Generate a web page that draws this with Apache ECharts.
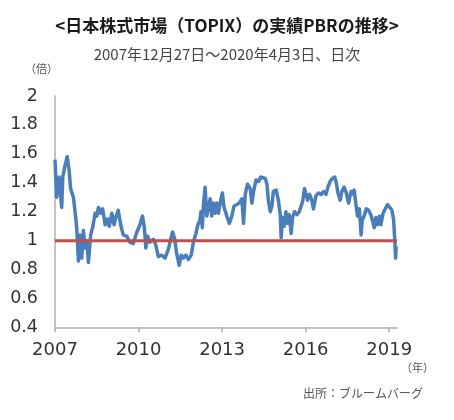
<!DOCTYPE html>
<html>
<head>
<meta charset="utf-8">
<script src="https://cdn.jsdelivr.net/npm/echarts@6/dist/echarts.min.js"></script>
<style>
html,body{margin:0;padding:0;background:#fff;}
#chart{width:454px;height:420px;}
</style>
</head>
<body>
<div id="chart"></div>
<script>
// x positions on the year axis (axis label scale)
var xPos = [
2007.00,2007.06,2007.15,2007.24,2007.28,2007.36,2007.44,2007.51,2007.56,2007.66,
2007.72,2007.78,2007.84,2007.90,2007.96,2008.02,2008.08,2008.14,2008.20,2008.28,
2008.36,2008.44,2008.50,2008.56,2008.64,2008.71,2008.80,2008.88,2008.95,2009.04,
2009.12,2009.18,2009.27,2009.37,2009.45,2009.58,2009.69,2009.81,2009.94,2010.05,
2010.14,2010.21,2010.26,2010.33,2010.41,2010.53,2010.62,2010.71,2010.83,2010.95,
2011.07,2011.22,2011.29,2011.37,2011.46,2011.53,2011.61,2011.70,2011.79,2011.89,
2011.97,2012.06,2012.13,2012.20,2012.24,2012.29,2012.33,2012.39,2012.45,2012.51,
2012.57,2012.63,2012.69,2012.75,2012.81,2012.87,2012.95,2013.01,2013.07,2013.17,
2013.26,2013.35,2013.43,2013.53,2013.62,2013.71,2013.77,2013.83,2013.91,2014.01,
2014.07,2014.15,2014.22,2014.31,2014.39,2014.46,2014.55,2014.61,2014.66,2014.73,
2014.79,2014.84,2014.94,2015.02,2015.09,2015.12,2015.17,2015.23,2015.29,2015.35,
2015.41,2015.48,2015.53,2015.60,2015.69,2015.77,2015.84,2015.89,2015.96,2016.01,
2016.07,2016.14,2016.22,2016.28,2016.37,2016.46,2016.56,2016.64,2016.73,2016.80,
2016.88,2016.96,2017.04,2017.10,2017.16,2017.24,2017.30,2017.38,2017.46,2017.54,
2017.63,2017.72,2017.74,2017.82,2017.86,2017.93,2017.99,2018.03,2018.10,2018.18,
2018.26,2018.34,2018.40,2018.46,2018.52,2018.58,2018.65,2018.70,2018.78,2018.86,
2018.94,2019.01,2019.10,2019.16,2019.19,2019.23,2019.25
];
// PBR values (times)
var pbr = [
1.56,1.30,1.44,1.23,1.44,1.52,1.58,1.48,1.36,1.30,
1.20,1.09,0.86,1.04,0.88,1.07,0.95,1.00,0.85,1.04,
1.10,1.19,1.17,1.23,1.19,1.22,1.11,1.15,1.10,1.19,
1.11,1.16,1.21,1.10,1.04,1.03,0.99,0.98,1.06,1.11,
1.17,1.09,0.95,1.03,0.99,1.01,0.97,0.89,0.90,0.88,
0.94,1.06,1.02,0.91,0.83,0.90,0.88,0.90,0.87,0.90,
0.99,1.05,1.11,1.14,1.20,1.09,1.25,1.37,1.17,1.23,
1.29,1.17,1.26,1.19,1.26,1.19,1.28,1.33,1.23,1.17,
1.12,1.17,1.24,1.25,1.26,1.29,1.12,1.32,1.39,1.36,
1.26,1.36,1.42,1.41,1.44,1.44,1.43,1.39,1.28,1.20,
1.24,1.34,1.35,1.28,1.18,1.02,1.16,1.10,1.20,1.12,
1.18,1.05,1.16,1.20,1.18,1.20,1.21,1.27,1.36,1.35,
1.28,1.32,1.28,1.22,1.31,1.33,1.32,1.34,1.32,1.37,
1.41,1.43,1.44,1.40,1.33,1.28,1.34,1.37,1.33,1.26,
1.34,1.32,1.35,1.23,1.17,1.22,1.04,1.14,1.17,1.22,
1.21,1.18,1.14,1.09,1.16,1.11,1.17,1.11,1.19,1.22,
1.25,1.24,1.21,1.14,1.04,0.88,0.96
];
var yearTicks = [2007, 2010, 2013, 2016, 2019];
var baseLine = 1;

var data = xPos.map(function (x, i) { return [x, pbr[i]]; });

var chart = echarts.init(document.getElementById('chart'), null, {renderer: 'canvas'});
var fontLatin = 'DejaVu Sans, Verdana, sans-serif';
var fontCJK = '"Noto Sans CJK JP", "Noto Sans", sans-serif';
chart.setOption({
  animation: false,
  backgroundColor: '#ffffff',
  title: [{
    text: '<日本株式市場（TOPIX）の実績PBRの推移>',
    left: 'center', top: 12,
    textStyle: {fontFamily: fontCJK, fontSize: 17, fontWeight: 'bold', color: '#1a1a1a'}
  }, {
    text: '2007年12月27日～2020年4月3日、日次',
    left: 'center', top: 42,
    textStyle: {fontFamily: fontCJK, fontSize: 15, fontWeight: 'normal', color: '#444'}
  }],
  graphic: [{
    type: 'text', left: 25, top: 63,
    style: {text: '（倍）', font: '11px "Noto Sans CJK JP", sans-serif', fill: '#555'}
  }, {
    type: 'text', left: 401, top: 362,
    style: {text: '（年）', font: '11px "Noto Sans CJK JP", sans-serif', fill: '#555'}
  }, {
    type: 'text', right: 31, top: 387,
    style: {text: '出所：ブルームバーグ', font: '12px "Noto Sans CJK JP", sans-serif', fill: '#555'}
  }],
  grid: {left: 55, right: 57, top: 96, bottom: 92.5, containLabel: false},
  xAxis: {
    type: 'value', min: 2007, max: 2019.28, interval: 3,
    axisLine: {show: true, lineStyle: {color: '#b0b0b0', width: 1.5}},
    axisTick: {show: true, length: 5, lineStyle: {color: '#b0b0b0', width: 1.5}, customValues: yearTicks},
    axisLabel: {
      customValues: yearTicks,
      margin: 14, fontFamily: fontLatin, fontSize: 18, color: '#333',
      formatter: function (v) { return String(Math.round(v)); }
    },
    splitLine: {show: false}
  },
  yAxis: {
    type: 'value', min: 0.4, max: 2, interval: 0.2,
    axisLine: {show: true, lineStyle: {color: '#b0b0b0', width: 1.5}},
    axisTick: {show: false},
    axisLabel: {
      margin: 17, fontFamily: fontLatin, fontSize: 17.5, color: '#333',
      formatter: function (v) { return String(Math.round(v * 10) / 10); }
    },
    splitLine: {show: false}
  },
  series: [{
    type: 'line',
    data: data,
    symbol: 'none',
    smooth: false,
    lineStyle: {color: '#4a7ebb', width: 3.5, join: 'round'},
    z: 2
  }, {
    type: 'line',
    data: [[2007, baseLine], [2019.28, baseLine]],
    symbol: 'none',
    lineStyle: {color: '#c0504d', width: 3},
    z: 3
  }]
});
</script>
</body>
</html>
